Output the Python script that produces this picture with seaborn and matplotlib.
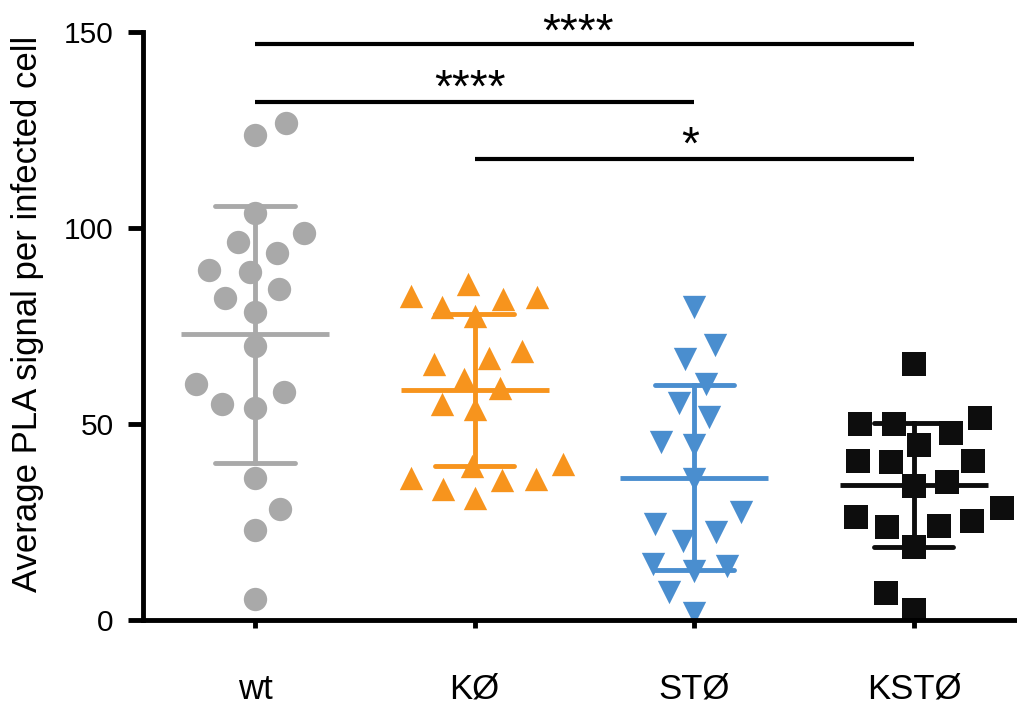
import matplotlib
matplotlib.use("Agg")
import matplotlib.pyplot as plt
import numpy as np
import pandas as pd
import seaborn as sns

# values
groups = ["wt", "KØ", "STØ", "KSTØ"]
wt_vals = [126.9, 123.7, 103.8, 98.7, 96.4, 93.6, 89.3, 88.8, 84.4, 82.1,
           78.6, 69.9, 60.2, 58.2, 55.1, 54.1, 36.2, 28.3, 23.0, 5.4]
ko_vals = [85.6, 82.3, 79.9, 81.8, 82.7, 77.6, 68.6, 66.8, 65.3, 61.5,
           59.1, 55.1, 53.8, 39.8, 39.3, 36.3, 35.7, 36.0, 33.5, 31.0]
sto_vals = [79.8, 70.2, 66.6, 60.2, 55.3, 51.9, 45.5, 44.6, 36.0, 27.6,
            24.5, 22.4, 20.2, 13.9, 14.3, 12.5, 7.1, 1.7]
ksto_vals = [65.2, 50.0, 51.5, 49.9, 47.6, 44.6, 40.6, 40.2, 40.6, 35.3,
             34.2, 28.5, 26.4, 25.3, 23.6, 24.1, 18.7, 7.0, 2.6]

# significance brackets: (from group, to group, level, label)
sig_pairs = [("wt", "KSTØ", 146.9, "****"),
             ("wt", "STØ", 132.1, "****"),
             ("KØ", "KSTØ", 117.6, "*")]

colors = ["#a9a9a9", "#f7941d", "#4a8ecf", "#0d0d0d"]
markers = ["o", "^", "v", "s"]

all_vals = [wt_vals, ko_vals, sto_vals, ksto_vals]
df = pd.DataFrame({
    "group": np.repeat(groups, [len(v) for v in all_vals]),
    "value": np.concatenate(all_vals),
})

sns.set_style("ticks")
plt.rcParams["font.family"] = ["Liberation Sans", "DejaVu Sans"]
plt.rcParams["text.color"] = "black"
plt.rcParams["axes.labelcolor"] = "black"
plt.rcParams["xtick.color"] = "black"
plt.rcParams["ytick.color"] = "black"

fig = plt.figure(figsize=(10.17, 7.07), dpi=100)
ax = fig.add_axes([143 / 1017, 87 / 707, 872 / 1017, 588 / 707])

# scatter of individual cells (swarm laid out with a wider spacing,
# like the column scatter in the original, then markers shrunk)
swarm_cols = []
for g, c, m in zip(groups, colors, markers):
    sub = df[df["group"] == g]
    n_before = len(ax.collections)
    sns.swarmplot(data=sub, x="group", y="value", order=groups, color=c,
                  marker=m, size=23, linewidth=0, ax=ax, zorder=2)
    swarm_cols += ax.collections[n_before:]

ax.set_xlim(-0.51, 3.46)
ax.set_ylim(0, 150)
fig.canvas.draw()
for coll in swarm_cols:
    if "draw" in coll.__dict__:
        del coll.draw
    coll.set_sizes([16.8 ** 2])

# mean +/- SD
sns.pointplot(data=df, x="group", y="value", hue="group", order=groups,
              hue_order=groups, palette=colors, errorbar="sd", capsize=0.36,
              markers="_", markersize=106, markeredgewidth=3.5,
              linestyle="none", legend=False, ax=ax, zorder=3,
              err_kws={"linewidth": 3.5, "solid_capstyle": "round"})

# significance bars
pos = {g: i for i, g in enumerate(groups)}
for a, b, level, lab in sig_pairs:
    ax.plot([pos[a], pos[b]], [level, level], color="black", lw=3,
            solid_capstyle="butt", clip_on=False, zorder=4)
text_pos = [(1.47, 146.4), (0.98, 132.1), (1.98, 117.8)]
for (x, y), (_, _, _, lab) in zip(text_pos, sig_pairs):
    ax.text(x, y, lab, ha="center", va="baseline", fontsize=33,
            color="black", clip_on=False)

ax.set_xlim(-0.51, 3.46)
ax.set_ylim(0, 150)
ax.set_yticks([0, 50, 100, 150])
ax.set_xlabel("")
ax.set_ylabel("Average PLA signal per infected cell", fontsize=25)
ax.yaxis.set_label_coords(-0.1135, 0.52)

sns.despine(ax=ax)
for s in ["left", "bottom"]:
    ax.spines[s].set_linewidth(3.5)
    ax.spines[s].set_color("black")
ax.tick_params(axis="y", length=11, width=3.5, pad=10, labelsize=21.5,
               color="black", labelcolor="black")
ax.tick_params(axis="x", length=6, width=3.5, pad=32, labelsize=25,
               color="black", labelcolor="black")

fig.savefig("out.png", dpi=100)
